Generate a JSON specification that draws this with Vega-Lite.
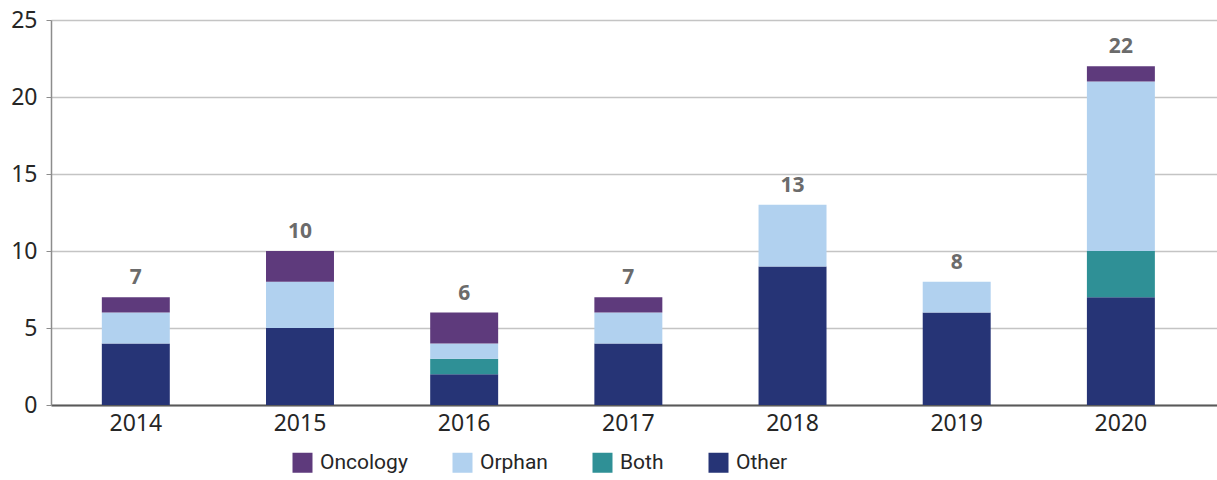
{
  "$schema": "https://vega.github.io/schema/vega-lite/v6.json",
  "width": 1166,
  "height": 385,
  "autosize": {"type": "none"},
  "padding": {"left": 51, "top": 20, "right": 0, "bottom": 75},
  "config": {
    "font": "Noto Sans",
    "view": {"stroke": null},
    "axis": {"labelFont": "Noto Sans", "labelFontSize": 23, "labelColor": "#262626"}
  },
  "data": {
    "values": [
      {"year": "2014", "category": "Other", "count": 4, "ord": 1},
      {"year": "2014", "category": "Orphan", "count": 2, "ord": 3},
      {"year": "2014", "category": "Oncology", "count": 1, "ord": 4},
      {"year": "2015", "category": "Other", "count": 5, "ord": 1},
      {"year": "2015", "category": "Orphan", "count": 3, "ord": 3},
      {"year": "2015", "category": "Oncology", "count": 2, "ord": 4},
      {"year": "2016", "category": "Other", "count": 2, "ord": 1},
      {"year": "2016", "category": "Both", "count": 1, "ord": 2},
      {"year": "2016", "category": "Orphan", "count": 1, "ord": 3},
      {"year": "2016", "category": "Oncology", "count": 2, "ord": 4},
      {"year": "2017", "category": "Other", "count": 4, "ord": 1},
      {"year": "2017", "category": "Orphan", "count": 2, "ord": 3},
      {"year": "2017", "category": "Oncology", "count": 1, "ord": 4},
      {"year": "2018", "category": "Other", "count": 9, "ord": 1},
      {"year": "2018", "category": "Orphan", "count": 4, "ord": 3},
      {"year": "2019", "category": "Other", "count": 6, "ord": 1},
      {"year": "2019", "category": "Orphan", "count": 2, "ord": 3},
      {"year": "2020", "category": "Other", "count": 7, "ord": 1},
      {"year": "2020", "category": "Both", "count": 3, "ord": 2},
      {"year": "2020", "category": "Orphan", "count": 11, "ord": 3},
      {"year": "2020", "category": "Oncology", "count": 1, "ord": 4}
    ]
  },
  "encoding": {
    "x": {
      "field": "year", "type": "nominal", "title": null,
      "scale": {"paddingInner": 0.586, "paddingOuter": 0.344, "align": 0.45},
      "axis": {"labelAngle": 0, "ticks": false, "domainColor": "#595959", "domainWidth": 2, "labelPadding": 7, "grid": false}
    },
    "y": {
      "field": "count", "type": "quantitative", "aggregate": "sum", "stack": "zero", "title": null,
      "scale": {"domain": [0, 25], "nice": false},
      "axis": {"values": [0, 5, 10, 15, 20, 25], "grid": true, "gridColor": "#c4c4c4", "gridWidth": 1.5, "domainColor": "#8c8c8c", "domainWidth": 1.5, "tickColor": "#8c8c8c", "tickSize": 5, "labelPadding": 9}
    }
  },
  "layer": [
    {
      "mark": {"type": "bar"},
      "encoding": {
        "color": {
          "field": "category", "type": "nominal",
          "scale": {"domain": ["Oncology", "Orphan", "Both", "Other"], "range": ["#5e3a7c", "#b1d1ef", "#2f9096", "#263476"]},
          "legend": {
            "title": null, "orient": "none", "direction": "horizontal",
            "legendX": 241, "legendY": 432,
            "symbolType": "square", "symbolSize": 400, "symbolStrokeWidth": 0,
            "labelFontSize": 21, "labelColor": "#262626", "labelFont": "Roboto",
            "columnPadding": 44, "symbolOffset": 0, "labelOffset": 7
          }
        },
        "order": {"field": "ord", "type": "quantitative"}
      }
    },
    {
      "mark": {"type": "text", "dy": -13, "baseline": "alphabetic", "fontSize": 21, "fontWeight": "bold", "color": "#6b6b6b", "font": "Noto Sans"},
      "encoding": {
        "y": {"field": "count", "type": "quantitative", "aggregate": "sum", "stack": null},
        "text": {"field": "count", "type": "quantitative", "aggregate": "sum"}
      }
    }
  ]
}
